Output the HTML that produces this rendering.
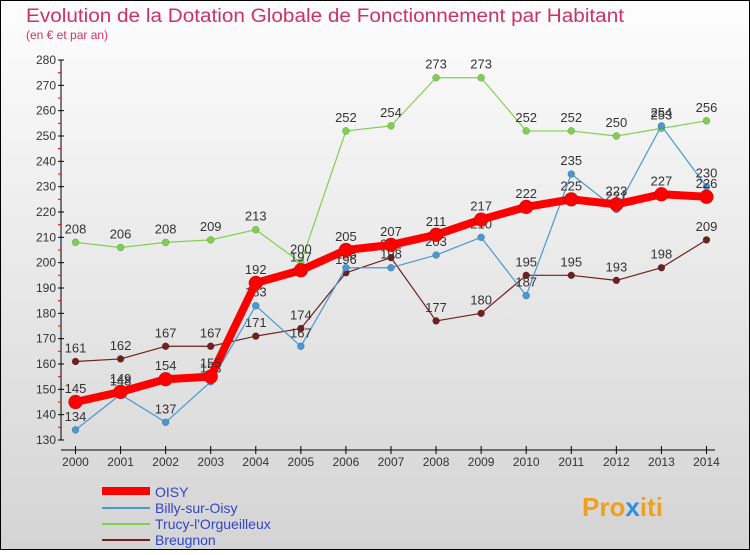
<!DOCTYPE html>
<html><head><meta charset="utf-8"><style>
body{margin:0;width:750px;height:550px;overflow:hidden;font-family:"Liberation Sans",sans-serif}
</style></head><body>
<svg width="750" height="550" xmlns="http://www.w3.org/2000/svg">
<defs><linearGradient id="bg" x1="0" y1="0" x2="0" y2="1"><stop offset="0" stop-color="#fdfdfd"/><stop offset="1" stop-color="#d4d4d4"/></linearGradient></defs>
<rect x="0.5" y="0.5" width="749" height="549" fill="url(#bg)" stroke="#000"/>
<text x="26" y="22" font-size="19" fill="#d0306a" textLength="598" lengthAdjust="spacingAndGlyphs">Evolution de la Dotation Globale de Fonctionnement par Habitant</text>
<text x="26" y="39" font-size="12" fill="#d0306a">(en € et par an)</text>
<g id="axes"></g><g id="series"></g>
<g>
<line x1="102" y1="491" x2="150" y2="491" stroke="#f00" stroke-width="8"/><text x="155" y="497" font-size="14" fill="#3344cc">OISY</text>
<line x1="102" y1="508" x2="150" y2="508" stroke="#4a98d0" stroke-width="2"/><text x="155" y="513" font-size="14" fill="#3344cc">Billy-sur-Oisy</text>
<line x1="102" y1="524" x2="150" y2="524" stroke="#80d050" stroke-width="2"/><text x="155" y="529" font-size="14" fill="#3344cc">Trucy-l'Orgueilleux</text>
<line x1="102" y1="540" x2="150" y2="540" stroke="#702020" stroke-width="2"/><text x="155" y="545" font-size="14" fill="#3344cc">Breugnon</text>
</g>
<text x="582" y="516" font-size="26" font-weight="bold" fill="#f0a020">Pro<tspan fill="#3090e0">x</tspan>iti</text>
</svg>
<script>
const years=[2000,2001,2002,2003,2004,2005,2006,2007,2008,2009,2010,2011,2012,2013,2014];
const oisy=[145,149,154,155,192,197,205,207,211,217,222,225,223,227,226];
const billy=[134,148,137,153,183,167,198,198,203,210,187,235,221,254,230];
const trucy=[208,206,208,209,213,200,252,254,273,273,252,252,250,253,256];
const breugnon=[161,162,167,167,171,174,196,202,177,180,195,195,193,198,209];
const yTicks=[130,140,150,160,170,180,190,200,210,220,230,240,250,260,270,280];
const NS="http://www.w3.org/2000/svg";
const X=i=>75.5+i*45.07, Y=v=>440-(v-130)*380/150;
function el(t,a,p){const e=document.createElementNS(NS,t);for(const k in a)e.setAttribute(k,a[k]);p.appendChild(e);return e;}
const ax=document.getElementById('axes');
el('line',{x1:61,y1:60,x2:61,y2:440,stroke:'#000'},ax);
el('line',{x1:61,y1:450,x2:715,y2:450,stroke:'#000'},ax);
yTicks.forEach(v=>{const y=Y(v);
el('line',{x1:58,y1:y,x2:64,y2:y,stroke:'#000'},ax);
if(v<280)el('line',{x1:58,y1:Y(v+5),x2:61,y2:Y(v+5),stroke:'#f00'},ax);
const t=el('text',{x:56,y:y+4,'font-size':12,'text-anchor':'end',fill:'#333'},ax);t.textContent=v;
});
years.forEach((yr,i)=>{const x=X(i);el('line',{x1:x,y1:446,x2:x,y2:454,stroke:'#000'},ax);
const t=el('text',{x:x,y:466,'font-size':12,'text-anchor':'middle',fill:'#333'},ax);t.textContent=yr;
});
const sg=document.getElementById('series');
function draw(vals,color,w,r,name){const g=el('g',{},sg);

el('polyline',{points:vals.map((v,i)=>X(i)+','+Y(v)).join(' '),fill:'none',stroke:color,'stroke-width':w,'stroke-linejoin':'round'},g);
vals.forEach((v,i)=>{const c=el('circle',{cx:X(i),cy:Y(v),r:r,fill:color,stroke:'rgba(0,0,0,0.3)','stroke-width':0.5},g);

const t=el('text',{x:X(i),y:Y(v)-9,'font-size':13,'text-anchor':'middle',fill:'#333'},g);t.textContent=v;});}
draw(breugnon,'#702020',1.2,3.5,'series-breugnon');
draw(trucy,'#80d050',1.2,3.5,'series-trucy');
draw(billy,'#4a98d0',1.2,3.5,'series-billy');
draw(oisy,'#f00',8,7,'series-oisy');
</script>
</body></html>
